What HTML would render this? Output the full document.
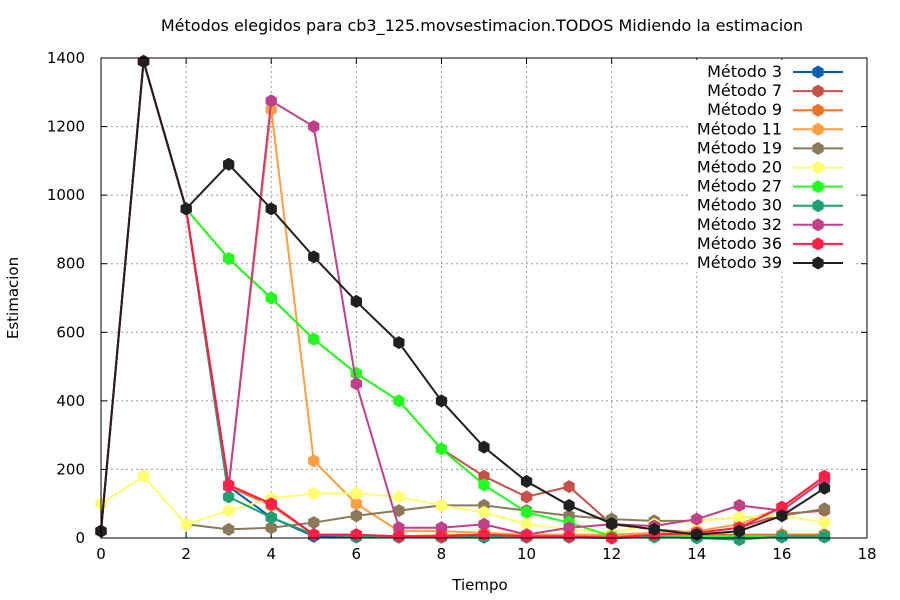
<!DOCTYPE html>
<html><head><meta charset="utf-8"><style>
body{margin:0;background:#fff}
svg{display:block;font-family:"DejaVu Sans","Liberation Sans",sans-serif}
</style></head><body>
<svg id="c" width="900" height="600"></svg>
<script>
const xTicks=[0,2,4,6,8,10,12,14,16,18];
const yTicks=[0,200,400,600,800,1000,1200,1400];
const seriesNames=["Método 3","Método 7","Método 9","Método 11","Método 19","Método 20","Método 27","Método 30","Método 32","Método 36","Método 39"];
const seriesColors=["#0060ad","#c8504a","#f0702a","#ffa040","#8a7a5a","#ffff70","#20ff20","#20a070","#c0408a","#ff2048","#202020"];
const s3 =[20,1390,960,150,60,5,3,2,2,2,2,2,0,3,3,3,3,3];
const s7 =[20,1390,960,815,700,580,480,400,260,180,120,150,40,25,15,30,70,80];
const s9 =[20,1390,960,150,95,10,8,5,8,10,5,5,5,10,10,10,10,10];
const s11=[20,1390,960,150,1250,225,100,20,20,15,10,10,10,15,20,40,90,170];
const s19=[null,null,40,25,30,45,65,80,95,95,80,65,55,50,50,60,65,85];
const s20=[100,180,40,80,115,130,130,120,95,75,40,25,15,40,50,60,65,45];
const s27=[20,1390,960,815,700,580,480,400,260,155,75,45,5,5,5,5,5,5];
const s30=[20,1390,960,120,60,10,5,3,3,3,3,3,0,3,0,-5,5,5];
const s32=[20,1390,960,150,1275,1200,450,30,30,40,10,30,40,35,55,95,80,170];
const s36=[20,1390,960,155,100,10,10,5,5,10,5,5,0,10,15,30,90,180];
const s39=[20,1390,960,1090,960,820,690,570,400,265,165,95,42,25,10,20,65,145];
const allSeries=[s3,s7,s9,s11,s19,s20,s27,s30,s32,s36,s39];
const NS="http://www.w3.org/2000/svg";
const svg=document.getElementById('c');
const X0=101,X1=867,Y0=538,Y1=58;
const xs=v=>X0+(X1-X0)*v/18, ys=v=>Y0-(Y0-Y1)*v/1400;
function mk(t,a,p){const e=document.createElementNS(NS,t);for(const k in a)e.setAttribute(k,a[k]);(p||svg).appendChild(e);return e;}
function hex(cx,cy,r){let p=[];for(let k=0;k<6;k++){const a=Math.PI/3*k+Math.PI/6;p.push((cx+r*Math.cos(a)).toFixed(1)+','+(cy+r*Math.sin(a)).toFixed(1));}return p.join(' ');}
xTicks.forEach(t=>{if(t>0&&t<18){const g=mk('line',{x1:xs(t),x2:xs(t),y1:Y0,y2:Y1,stroke:'#999','stroke-dasharray':'2,3'});

}
const l=mk('text',{x:xs(t),y:Y0+21,'text-anchor':'middle','font-size':15});l.textContent=t;


mk('line',{x1:xs(t),x2:xs(t),y1:Y0,y2:Y0-6,stroke:'#000'});mk('line',{x1:xs(t),x2:xs(t),y1:Y1,y2:Y1+6,stroke:'#000'});});
yTicks.forEach(t=>{if(t>0&&t<1400){const g=mk('line',{x1:X0,x2:X1,y1:ys(t),y2:ys(t),stroke:'#999','stroke-dasharray':'2,3'});

}
const l=mk('text',{x:X0-16,y:ys(t)+5,'text-anchor':'end','font-size':15});l.textContent=t;


mk('line',{x1:X0,x2:X0+6,y1:ys(t),y2:ys(t),stroke:'#000'});mk('line',{x1:X1,x2:X1-6,y1:ys(t),y2:ys(t),stroke:'#000'});});
const lb=mk('rect',{x:690,y:60,width:165,height:212,fill:'#fff'});


allSeries.forEach((d,i)=>{
 const c=seriesColors[i];
 const g=mk('g',{});
 
 
 const pts=[];d.forEach((v,j)=>{if(v!==null)pts.push(xs(j)+','+ys(v));});
 mk('polyline',{points:pts.join(' '),fill:'none',stroke:c,'stroke-width':2},g);
 d.forEach((v,j)=>{if(v===null)return;const p=mk('polygon',{points:hex(xs(j),ys(v),6.5),fill:c},g);
 
 });
 const y=72+i*19.1;
 const le=mk('g',{});
 
 
 const t=mk('text',{x:782,y:y+5,'text-anchor':'end','font-size':16},le);t.textContent=seriesNames[i];
 mk('line',{x1:793,x2:843,y1:y,y2:y,stroke:c,'stroke-width':2},le);
 mk('polygon',{points:hex(818,y,6.5),fill:c},le);
});
mk('rect',{x:X0,y:Y1,width:X1-X0,height:Y0-Y1,fill:'none',stroke:'#000'});
const ti=mk('text',{x:482,y:31,'text-anchor':'middle','font-size':16});ti.textContent='Métodos elegidos para cb3_125.movsestimacion.TODOS Midiendo la estimacion';


const xt=mk('text',{x:480,y:590,'text-anchor':'middle','font-size':15});xt.textContent='Tiempo';


const yt=mk('text',{x:18,y:298,'text-anchor':'middle','font-size':15,transform:'rotate(-90 18 298)'});yt.textContent='Estimacion';


</script>
</body></html>
